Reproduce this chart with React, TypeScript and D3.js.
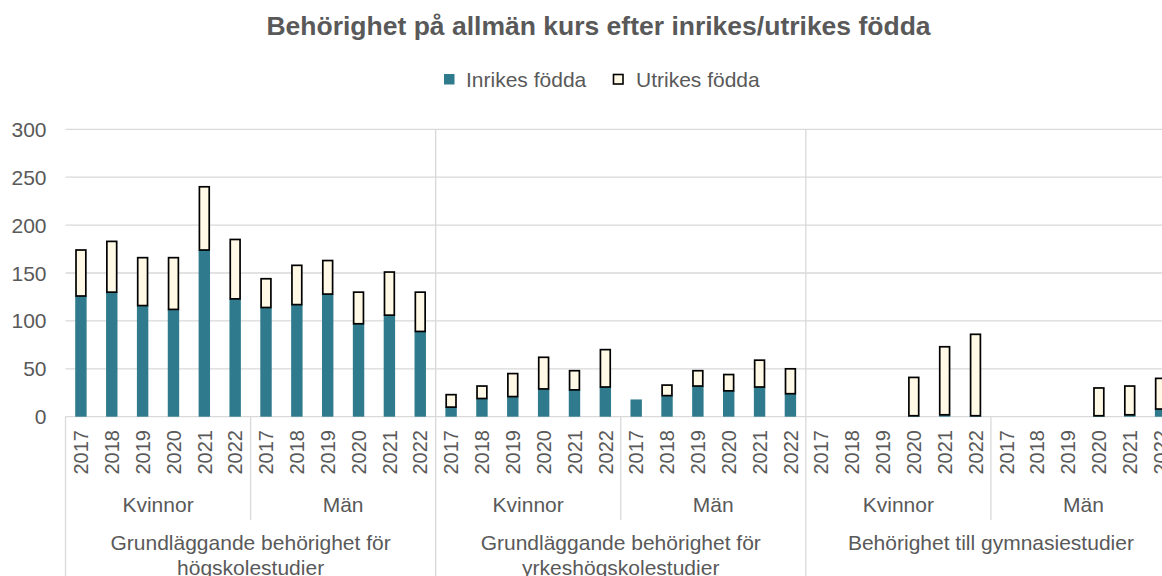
import React from 'react';
import * as d3 from 'd3';

const groups = ['Grundläggande behörighet för|högskolestudier', 'Grundläggande behörighet för|yrkeshögskolestudier', 'Behörighet till gymnasiestudier'];
const sexes = ['Kvinnor', 'Män'];
const years = ['2017', '2018', '2019', '2020', '2021', '2022'];

// one row per group: Kvinnor 2017-2022, then Män 2017-2022
const inrikes: (number | null)[][] = [
  [126, 130, 116, 112, 174, 123, 114, 117, 128, 97, 106, 89],
  [10, 19, 21, 29, 28, 31, 18, 22, 32, 27, 31, 24],
  [null, null, null, 1, 2, 1, null, null, null, 1, 2, 8],
];
const utrikes: (number | null)[][] = [
  [48, 53, 50, 54, 66, 62, 30, 41, 35, 33, 45, 41],
  [13, 13, 24, 33, 20, 39, null, 11, 16, 17, 28, 26],
  [null, null, null, 40, 71, 85, null, null, null, 29, 30, 32],
];
const yTicks = [0, 50, 100, 150, 200, 250, 300];

const W = 1162;
const H = 576;
const left = 65.5;
const right = 1176;
const top = 129.3;
const bottom = 416.7;
const font = '"Liberation Sans", Arial, sans-serif';
const grey = '#595959';
const line = '#d9d9d9';
const teal = '#2f7a8c';
const cream = '#fff9e5';

const rows = groups.flatMap((g, gi) =>
  sexes.flatMap((s, si) =>
    years.map((y, yi) => ({
      key: `${gi}-${si}-${y}`,
      year: y,
      inr: inrikes[gi][si * 6 + yi],
      utr: utrikes[gi][si * 6 + yi],
    }))
  )
);

export default function App() {
  const x = d3.scaleBand().domain(rows.map(r => r.key)).range([left, right]).paddingInner(0.63).paddingOuter(0.315);
  const y = d3.scaleLinear().domain([0, 300]).range([bottom, top]);
  const step = x.step();
  const edge = (i: number) => left + i * step;

  return (
    <div style={{ position: 'fixed', left: 0, top: 0, width: W, height: H, overflow: 'hidden', background: '#fff' }}>
      <svg width={W} height={H} style={{ display: 'block', fontFamily: font }}>
        <text x={598.5} y={35} textAnchor="middle" fontSize={26.5} fontWeight="bold" fill={grey}>
          Behörighet på allmän kurs efter inrikes/utrikes födda
        </text>

        <g fontSize={21} fill={grey}>
          <rect x={444} y={74} width={10.5} height={10.5} fill={teal} />
          <text x={466} y={87}>Inrikes födda</text>
          <rect x={613.5} y={74.5} width={9.5} height={9.5} fill={cream} stroke="#000" strokeWidth={1.6} />
          <text x={636} y={87}>Utrikes födda</text>
        </g>

        {yTicks.map(t => (
          <g key={t}>
            <line x1={left} x2={W} y1={y(t)} y2={y(t)} stroke={line} strokeWidth={1.3} />
            <text x={46.5} y={y(t) + 7.5} textAnchor="end" fontSize={21} fill={grey}>{t}</text>
          </g>
        ))}

        {[0, 1, 2, 3].map(k => (
          <line key={'g' + k} x1={edge(k * 12)} x2={edge(k * 12)} y1={k === 0 ? bottom : top} y2={H} stroke={line} strokeWidth={1.3} />
        ))}
        {[0, 1, 2].map(k => (
          <line key={'s' + k} x1={edge(k * 12 + 6)} x2={edge(k * 12 + 6)} y1={bottom} y2={520} stroke={line} strokeWidth={1.3} />
        ))}

        {rows.map(r => {
          const bx = x(r.key)!;
          const bw = x.bandwidth();
          const base = r.inr ?? 0;
          return (
            <g key={r.key}>
              {r.inr != null && (
                <rect x={bx} y={y(r.inr)} width={bw} height={y(0) - y(r.inr)} fill={teal} />
              )}
              {r.utr != null && (
                <rect x={bx + 0.8} y={y(base + r.utr)} width={bw - 1.6} height={y(base) - y(base + r.utr)} fill={cream} stroke="#000" strokeWidth={1.7} />
              )}
            </g>
          );
        })}

        <g fontSize={20} fill={grey}>
          {rows.map(r => {
            const cx = x(r.key)! + x.bandwidth() / 2;
            return (
              <text key={'t' + r.key} transform={`translate(${cx},430) rotate(-90)`} textAnchor="end" dy="0.36em">
                {r.year}
              </text>
            );
          })}
        </g>

        <g fontSize={21} fill={grey} textAnchor="middle">
          {groups.flatMap((g, gi) =>
            sexes.map((s, si) => (
              <text key={'sx' + gi + si} x={edge(gi * 12 + si * 6 + 3)} y={511.5}>{s}</text>
            ))
          )}
          {groups.map((g, gi) =>
            g.split('|').map((part, li) => (
              <text key={'gl' + gi + li} x={edge(gi * 12 + 6)} y={550 + li * 24.5}>{part}</text>
            ))
          )}
        </g>
      </svg>
    </div>
  );
}
